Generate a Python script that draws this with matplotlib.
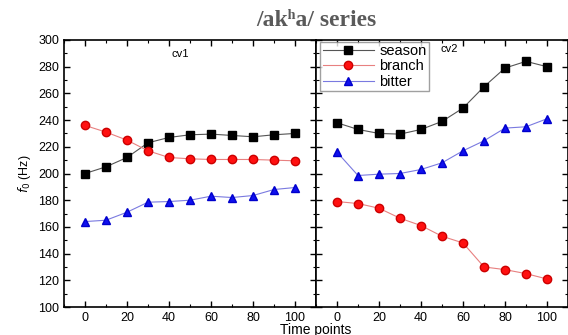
import matplotlib
matplotlib.use('Agg')
import matplotlib.pyplot as plt
from matplotlib.ticker import MultipleLocator

plt.rcParams['font.family'] = ['Liberation Sans', 'DejaVu Sans']

# time points (same for both panels)
time_pts = [0, 10, 20, 30, 40, 50, 60, 70, 80, 90, 100]

# cv1 panel
cv1_season = [200, 205, 212, 223, 227, 229, 229.5, 228.5, 227.5, 229, 230]
cv1_branch = [236, 231, 225, 217, 212, 211, 210.5, 210.5, 210.5, 210, 209.5]
cv1_bitter = [164, 165, 171, 178.5, 179, 180, 183, 182, 183.5, 188, 189.5]

# cv2 panel
cv2_season = [238, 233, 230, 229.5, 233, 239, 249, 265, 279, 284, 280]
cv2_branch = [179, 177.5, 174, 166.5, 161, 153, 148, 130, 128, 125, 121]
cv2_bitter = [216, 198.5, 199.5, 200, 203, 208, 217, 224.5, 234, 235, 241]

panel_names = ['cv1', 'cv2']
series_names = ['season', 'branch', 'bitter']

styles = {
    'season': dict(marker='s', color='#555555', mfc='black', mec='black'),
    'branch': dict(marker='o', color='#e88080', mfc='#ff1010', mec='#cc0000'),
    'bitter': dict(marker='^', color='#7a7ae0', mfc='#1010ee', mec='#0000cc'),
}

fig = plt.figure(figsize=(5.68, 3.35), dpi=100)
ax1 = fig.add_axes([64/568, 1 - 307/335, 252/568, 267/335])
ax2 = fig.add_axes([316/568, 1 - 307/335, 252/568, 267/335], sharey=ax1)

data = {
    'cv1': [cv1_season, cv1_branch, cv1_bitter],
    'cv2': [cv2_season, cv2_branch, cv2_bitter],
}

for ax, name in zip([ax1, ax2], panel_names):
    for s, vals in zip(series_names, data[name]):
        st = styles[s]
        ax.plot(time_pts, vals, marker=st['marker'], color=st['color'], lw=0.8,
                markerfacecolor=st['mfc'], markeredgecolor=st['mec'],
                markersize=6, label=s)
    ax.set_xlim(-10, 110)
    ax.set_ylim(100, 300)
    ax.xaxis.set_major_locator(MultipleLocator(20))
    ax.xaxis.set_minor_locator(MultipleLocator(10))
    ax.yaxis.set_major_locator(MultipleLocator(20))
    ax.yaxis.set_minor_locator(MultipleLocator(10))
    ax.tick_params(which='both', direction='in', top=True, right=True,
                   labelsize=9, pad=3.5)
    ax.tick_params(which='major', length=4, width=1)
    ax.tick_params(which='minor', length=2.5, width=0.8)
    for sp in ax.spines.values():
        sp.set_linewidth(1.2)

ax1.text(0.46, 0.965, 'cv1', transform=ax1.transAxes, ha='center', va='top', fontsize=8)
ax2.text(0.53, 0.985, 'cv2', transform=ax2.transAxes, ha='center', va='top', fontsize=8)
ax2.tick_params(labelleft=False)

ax2.legend(loc='upper left', bbox_to_anchor=(0.0, 1.01), fontsize=10.5, frameon=True,
           fancybox=False, edgecolor='#888888', handlelength=3.5, borderpad=0.15,
           labelspacing=0.1, handletextpad=0.4, borderaxespad=0.3)

ax1.set_ylabel('$f_0$ (Hz)', fontsize=9, labelpad=4)
fig.text(316/568, 1 - 330/335, 'Time points', ha='center', va='center', fontsize=10)

fig.text(316/568, 1 - 20/335, '/ak\u02b0a/ series', ha='center', va='center',
         fontsize=17, fontweight='bold', family=['Liberation Serif', 'DejaVu Serif'],
         color='#5a5a5a')

fig.savefig('out.png', dpi=100)
